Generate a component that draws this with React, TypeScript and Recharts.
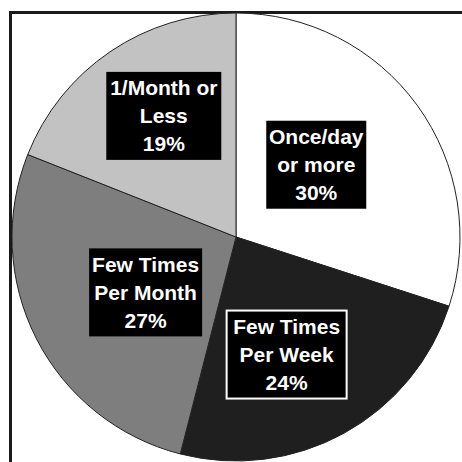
import { PieChart, Pie, Cell } from 'recharts'

const categories = ['Once/day\nor more', 'Few Times\nPer Week', 'Few Times\nPer Month', '1/Month or\nLess']
const shares = [30, 24, 27, 19]
const sliceColors = ['#ffffff', '#1f1f1f', '#7e7e7e', '#c2c2c2']

// label box placement, one entry per slice (radius, clockwise nudge in degrees, box width)
const labelRadius = [108, 128, 106, 141]
const labelNudge = [-6, 5.5, -4.5, 3.4]
const labelWidth = [100, 120, 113, 115]

const data = categories.map((name, i) => ({ name, value: shares[i] }))

const RAD = Math.PI / 180

function renderLabel(props: any) {
    const { cx, cy, midAngle, index, payload } = props
    const r = labelRadius[index]
    const a = (midAngle - labelNudge[index]) * RAD
    const x = cx + r * Math.cos(-a)
    const y = cy + r * Math.sin(-a)
    const w = labelWidth[index]
    const h = 88
    const lines = [...payload.name.split('\n'), payload.value + '%']
    const boxed = index === 1
    return (
        <g>
            <rect
                x={x - w / 2}
                y={y - h / 2}
                width={w}
                height={h}
                fill="#000"
                stroke={boxed ? '#fff' : 'none'}
                strokeWidth={boxed ? 2 : 0}
            />
            {lines.map((t: string, i: number) => (
                <text
                    key={i}
                    x={x}
                    y={y + (i - 1) * 28}
                    fill="#fff"
                    textAnchor="middle"
                    dominantBaseline="central"
                    fontFamily="'Liberation Sans', Arial, sans-serif"
                    fontWeight="bold"
                    fontSize={21}
                >
                    {t}
                </text>
            ))}
        </g>
    )
}

export default function App() {
    return (
        <div
            style={{
                position: 'fixed',
                left: 0,
                top: 0,
                width: 462,
                height: 462,
                background: '#fff',
                overflow: 'hidden',
            }}
        >
            <div
                style={{
                    position: 'absolute',
                    left: 9,
                    top: 11,
                    width: 480,
                    height: 480,
                    border: '3px solid #1a1a1a',
                }}
            />
            <div style={{ position: 'absolute', left: 0, top: 0 }}>
                <PieChart width={462} height={462} margin={{ top: 0, right: 0, bottom: 0, left: 0 }}>
                    <Pie
                        data={data}
                        dataKey="value"
                        cx={236}
                        cy={237}
                        outerRadius={224}
                        startAngle={90}
                        endAngle={-270}
                        stroke="#222"
                        strokeWidth={1}
                        label={renderLabel}
                        labelLine={false}
                        isAnimationActive={false}
                    >
                        {data.map((d, i) => (
                            <Cell key={d.name} fill={sliceColors[i]} />
                        ))}
                    </Pie>
                </PieChart>
            </div>
        </div>
    )
}
